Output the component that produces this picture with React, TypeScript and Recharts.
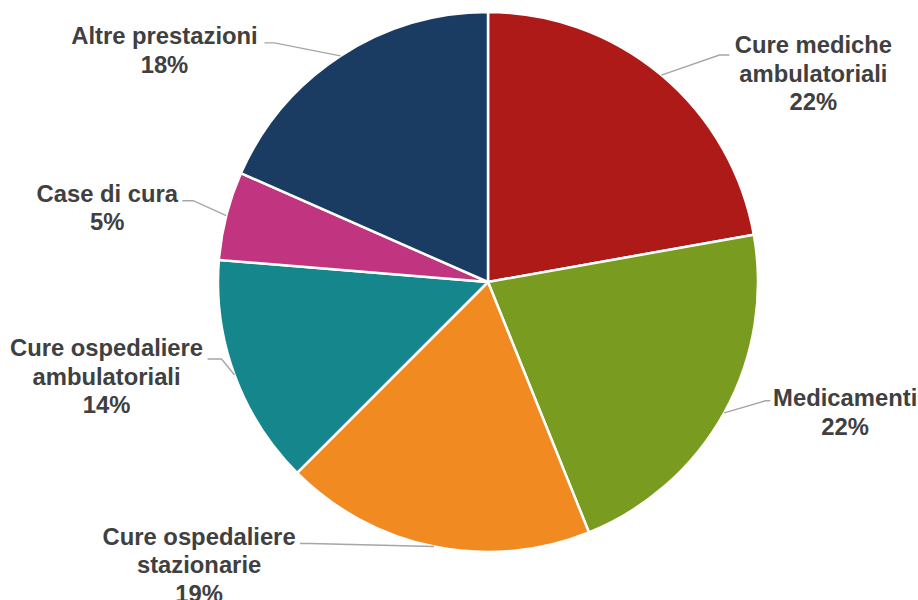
import { Cell, Pie, PieChart } from 'recharts'

const categories = [
  'Cure mediche\nambulatoriali',
  'Medicamenti',
  'Cure ospedaliere\nstazionarie',
  'Cure ospedaliere\nambulatoriali',
  'Case di cura',
  'Altre prestazioni',
]
const shares = [22.2, 21.7, 18.6, 13.8, 5.3, 18.4]
const colors = ['#ae1a17', '#789b20', '#f18a21', '#15868b', '#c13580', '#1b3c62']

// leader line elbow (from slice edge), horizontal tail, text centre / first baseline
const labelLayout = [
  { ex: 58, ey: -20, tail: 10, tx: 84, ty: -2 },
  { ex: 41, ey: -12, tail: 5, tx: 75, ty: 5 },
  { ex: -124, ey: -3, tail: -10, tx: -101, ty: 1 },
  { ex: -13, ey: -16, tail: -14, tx: -101, ty: -3 },
  { ex: -33, ey: -15, tail: -11, tx: -75, ty: 1 },
  { ex: -66, ey: -13, tail: -10, tx: -100, ty: 1 },
]

const data = categories.map((name, i) => ({ name, value: shares[i] }))
const RAD = Math.PI / 180
const LINE_H = 28.7

function renderLabel(props: any) {
  const { cx, cy, midAngle, outerRadius, index, percent } = props
  const layout = labelLayout[index]
  const px = cx + outerRadius * Math.cos(-midAngle * RAD)
  const py = cy + outerRadius * Math.sin(-midAngle * RAD)
  const bx = px + layout.ex
  const by = py + layout.ey
  const endX = bx + layout.tail
  const lines = [...categories[index].split('\n'), `${Math.round(percent * 100)}%`]
  return (
    <g>
      <polyline
        points={`${px},${py} ${bx},${by} ${endX},${by}`}
        fill="none"
        stroke="#a6a6a6"
        strokeWidth={1.4}
      />
      <text
        x={endX + layout.tx}
        y={by + layout.ty}
        textAnchor="middle"
        fill="#404040"
        fontFamily="'Liberation Sans', Arial, sans-serif"
        fontWeight="bold"
        fontSize={23.8}
      >
        {lines.map((line, i) => (
          <tspan key={i} x={endX + layout.tx} dy={i === 0 ? 0 : LINE_H}>
            {line}
          </tspan>
        ))}
      </text>
    </g>
  )
}

export default function App() {
  return (
    <div style={{ position: 'absolute', left: 0, top: 0, width: 918, height: 600, background: '#fff' }}>
      <PieChart width={918} height={600} margin={{ top: 0, right: 0, bottom: 0, left: 0 }}>
        <Pie
          data={data}
          dataKey="value"
          nameKey="name"
          cx={488}
          cy={282}
          outerRadius={270}
          startAngle={90}
          endAngle={-270}
          stroke="#ffffff"
          strokeWidth={2.5}
          label={renderLabel}
          labelLine={false}
          isAnimationActive={false}
        >
          {data.map((d, i) => (
            <Cell key={d.name} fill={colors[i]} />
          ))}
        </Pie>
      </PieChart>
    </div>
  )
}
